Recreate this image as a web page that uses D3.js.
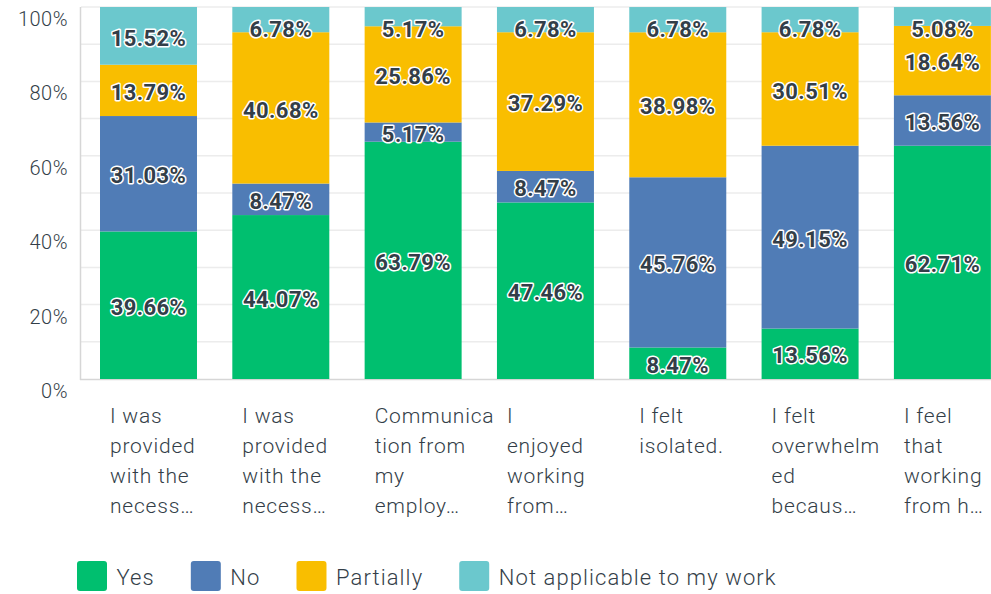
<!DOCTYPE html>
<html>
<head>
<meta charset="utf-8">
<script src="https://cdn.jsdelivr.net/npm/d3@7"></script>
<style>
  body { margin: 0; background: #fff; }
  svg { display: block; font-family: Roboto, "Noto Sans", sans-serif; }
</style>
</head>
<body>
<svg width="991" height="594"></svg>
<script>
// categories as they show up on the axis (already wrapped & truncated)
const categoryLines = [
  ["I was", "provided", "with the", "necess…"],
  ["I was", "provided", "with the", "necess…"],
  ["Communica", "tion from", "my", "employ…"],
  ["I", "enjoyed", "working", "from…"],
  ["I felt", "isolated."],
  ["I felt", "overwhelm", "ed", "becaus…"],
  ["I feel", "that", "working", "from h…"]
];
const categories = categoryLines.map(function(d, i) { return i + ":" + d.join(" "); });

const seriesNames = ["Yes", "No", "Partially", "Not applicable to my work"];
const yesValues = [39.66, 44.07, 63.79, 47.46, 8.47, 13.56, 62.71];
const noValues = [31.03, 8.47, 5.17, 8.47, 45.76, 49.15, 13.56];
const partiallyValues = [13.79, 40.68, 25.86, 37.29, 38.98, 30.51, 18.64];
const naValues = [15.52, 6.78, 5.17, 6.78, 6.78, 6.78, 5.08];
const yTicks = [0, 20, 40, 60, 80, 100];

const colors = ["#00bf6f", "#507cb6", "#f9be00", "#6bc8cd"];
const textColor = "#333e48";

// build rows for d3.stack
const rows = categories.map(function(c, i) {
  return { cat: c, "Yes": yesValues[i], "No": noValues[i],
           "Partially": partiallyValues[i], "Not applicable to my work": naValues[i] };
});
const series = d3.stack().keys(seriesNames)(rows);

const svg = d3.select("svg");

const x = d3.scaleBand()
  .domain(categories)
  .range([82.4, 1008.5])
  .paddingInner(0.267)
  .paddingOuter(0.133);

const y = d3.scaleLinear()
  .domain([0, 100])
  .range([379, 7]);

// gridlines every 10%
svg.append("g")
  .selectAll("line")
  .data(d3.range(10, 101, 10))
  .enter().append("line")
  .attr("x1", 81).attr("x2", 991)
  .attr("y1", function(d) { return y(d); })
  .attr("y2", function(d) { return y(d); })
  .attr("stroke", "#ececec")
  .attr("stroke-width", 1.5);

// axis lines
svg.append("line")
  .attr("x1", 80.5).attr("x2", 80.5).attr("y1", 7).attr("y2", 380)
  .attr("stroke", "#d6d6d6").attr("stroke-width", 1.5);
svg.append("line")
  .attr("x1", 80).attr("x2", 991).attr("y1", 379.5).attr("y2", 379.5)
  .attr("stroke", "#d6d6d6").attr("stroke-width", 1.5);

// y tick labels
svg.append("g")
  .selectAll("text")
  .data(yTicks)
  .enter().append("text")
  .attr("x", 68)
  .attr("y", function(d) { return y(d) + 19; })
  .attr("text-anchor", "end")
  .attr("font-size", 20)
  .attr("font-weight", 300)
  .attr("letter-spacing", 0.5)
  .attr("fill", textColor)
  .text(function(d) { return d + "%"; });

// bars
const layer = svg.append("g")
  .selectAll("g.layer")
  .data(series)
  .enter().append("g")
  .classed("layer", true)
  .attr("fill", function(d, i) { return colors[i]; });

layer.selectAll("rect")
  .data(function(d) { return d; })
  .enter().append("rect")
  .attr("x", function(d) { return x(d.data.cat); })
  .attr("width", x.bandwidth())
  .attr("y", function(d) { return y(d[1]); })
  .attr("height", function(d) { return y(d[0]) - y(d[1]); });

// value labels, with a white halo
const labels = [];
series.forEach(function(s) {
  s.forEach(function(d) {
    const v = d[1] - d[0];
    let cy = (y(d[0]) + y(d[1])) / 2 + 2;
    cy = Math.max(cy, 29);
    labels.push({ x: x(d.data.cat) + x.bandwidth() / 2, y: cy, v: v });
  });
});

svg.append("g")
  .selectAll("text")
  .data(labels)
  .enter().append("text")
  .attr("x", function(d) { return d.x; })
  .attr("y", function(d) { return d.y; })
  .attr("dy", "0.35em")
  .attr("text-anchor", "middle")
  .attr("font-size", 22)
  .attr("font-weight", "bold")
  .attr("letter-spacing", 0.4)
  .attr("fill", textColor)
  .attr("stroke", "#fff")
  .attr("stroke-width", 3)
  .attr("stroke-linejoin", "round")
  .attr("paint-order", "stroke")
  .text(function(d) { return d.v.toFixed(2) + "%"; });

// x labels, left aligned under each bar
const xl = svg.append("g")
  .selectAll("text")
  .data(categories)
  .enter().append("text")
  .attr("x", function(d) { return x(d) + 10; })
  .attr("y", 423)
  .attr("font-size", 21)
  .attr("font-weight", 300)
  .attr("letter-spacing", 0.8)
  .attr("fill", textColor);

xl.selectAll("tspan")
  .data(function(d, i) { return categoryLines[i]; })
  .enter().append("tspan")
  .attr("x", function() { return +d3.select(this.parentNode).attr("x"); })
  .attr("y", function(d, i) { return 423 + i * 30; })
  .text(function(d) { return d; });

// legend
const legend = svg.append("g");
let lx = 77;
seriesNames.forEach(function(name, i) {
  legend.append("rect")
    .attr("x", lx).attr("y", 561)
    .attr("width", 30).attr("height", 30)
    .attr("rx", 3)
    .attr("fill", colors[i]);
  const t = legend.append("text")
    .attr("x", lx + 39.5).attr("y", 584.5)
    .attr("font-size", 22)
    .attr("font-weight", 300)
    .attr("letter-spacing", 1.1)
    .attr("fill", textColor)
    .text(name);
  lx += 39.5 + t.node().getComputedTextLength() + 36;
});
</script>
</body>
</html>
